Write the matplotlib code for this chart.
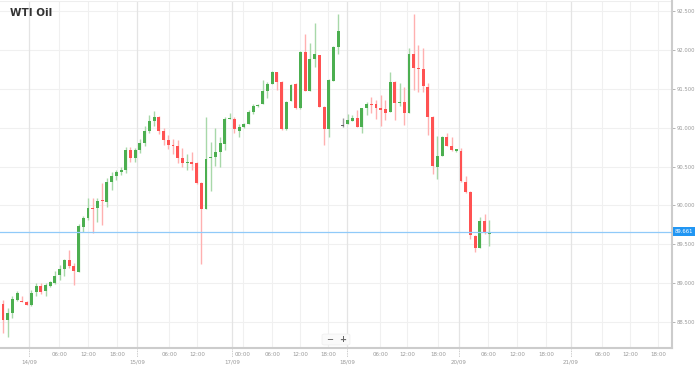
import matplotlib
matplotlib.use("Agg")
import matplotlib.pyplot as plt
from matplotlib.transforms import blended_transform_factory
from matplotlib.patches import FancyBboxPatch

title = "WTI Oil"

opens = [88.73, 88.53, 88.62, 88.79, 88.77, 88.76, 88.72, 88.89, 88.97, 88.90,
         88.97, 89.00, 89.11, 89.18, 89.30, 89.22, 89.15, 89.72, 89.84, 89.97,
         89.97, 90.07, 90.04, 90.30, 90.38, 90.43, 90.46, 90.71, 90.61, 90.71,
         90.80, 90.96, 91.08, 91.14, 90.96, 90.84, 90.78, 90.77, 90.61, 90.55,
         90.56, 90.55, 90.29, 89.96, 90.61, 90.62, 90.69, 90.79, 91.11, 91.11,
         90.96, 91.01, 91.05, 91.20, 91.28, 91.30, 91.47, 91.56, 91.72, 91.59,
         90.98, 91.34, 91.56, 91.25, 91.97, 91.47, 91.88, 91.93, 91.27, 90.98,
         91.60, 92.04, 91.02, 91.05, 91.09, 91.12, 91.01, 91.25, 91.30, 91.30,
         91.25, 91.24, 91.20, 91.59, 91.32, 91.33, 91.19, 91.95, 91.77, 91.75,
         91.52, 91.14, 90.49, 90.64, 90.88, 90.76, 90.70, 90.70, 90.30, 90.17,
         89.61, 89.45, 89.80, 89.63]
highs = [88.79, 88.68, 88.84, 88.90, 88.84, 88.77, 88.91, 89.00, 89.00, 89.00,
         89.03, 89.16, 89.24, 89.31, 89.43, 89.26, 89.76, 89.87, 90.10, 90.10,
         90.10, 90.29, 90.35, 90.43, 90.46, 90.50, 90.75, 90.75, 90.74, 90.85,
         91.02, 91.16, 91.21, 91.15, 91.00, 90.90, 90.86, 90.84, 90.74, 90.66,
         90.69, 90.56, 90.30, 91.14, 90.82, 90.99, 90.88, 91.14, 91.19, 91.14,
         91.05, 91.06, 91.23, 91.30, 91.30, 91.61, 91.59, 91.73, 91.72, 91.60,
         91.34, 91.56, 91.57, 91.98, 92.20, 92.09, 92.35, 91.94, 91.28, 91.62,
         92.05, 92.46, 91.12, 91.18, 91.16, 91.23, 91.25, 91.33, 91.39, 91.36,
         91.42, 91.36, 91.72, 91.60, 91.57, 91.52, 92.02, 92.46, 92.06, 92.02,
         91.57, 91.15, 90.89, 90.89, 90.93, 90.88, 90.73, 90.74, 90.38, 90.18,
         89.62, 89.85, 89.89, 89.81]
lows = [88.36, 88.31, 88.55, 88.77, 88.76, 88.72, 88.71, 88.84, 88.86, 88.84,
        88.95, 88.99, 89.04, 89.09, 89.20, 88.98, 89.14, 89.66, 89.81, 89.65,
        89.79, 89.75, 89.98, 90.20, 90.33, 90.39, 90.42, 90.56, 90.56, 90.67,
        90.76, 90.93, 91.02, 90.92, 90.78, 90.72, 90.66, 90.55, 90.50, 90.46,
        90.46, 90.28, 89.25, 89.95, 90.19, 90.51, 90.49, 90.71, 91.11, 90.93,
        90.88, 91.00, 91.05, 91.18, 91.27, 91.30, 91.38, 91.56, 91.48, 90.97,
        90.97, 91.34, 91.24, 91.24, 91.47, 91.47, 91.78, 91.26, 90.78, 90.88,
        91.60, 91.95, 91.01, 91.05, 91.09, 91.01, 90.93, 91.16, 91.19, 91.11,
        91.02, 91.10, 91.20, 91.10, 91.28, 91.03, 91.19, 91.48, 91.46, 91.46,
        90.91, 90.40, 90.34, 90.64, 90.76, 90.70, 90.69, 90.30, 90.16, 89.57,
        89.40, 89.45, 89.63, 89.48]
closes = [88.53, 88.62, 88.80, 88.88, 88.76, 88.72, 88.88, 88.97, 88.89, 88.98,
          89.02, 89.09, 89.18, 89.30, 89.22, 89.16, 89.74, 89.84, 89.97, 89.96,
          90.06, 90.06, 90.30, 90.38, 90.43, 90.46, 90.71, 90.61, 90.71, 90.80,
          90.96, 91.08, 91.14, 90.96, 90.84, 90.78, 90.77, 90.61, 90.55, 90.56,
          90.53, 90.29, 89.96, 90.60, 90.62, 90.69, 90.80, 91.11, 91.12, 90.98,
          91.01, 91.05, 91.20, 91.28, 91.29, 91.47, 91.56, 91.72, 91.59, 90.98,
          91.33, 91.55, 91.25, 91.97, 91.47, 91.88, 91.95, 91.27, 90.98, 91.61,
          92.04, 92.24, 91.02, 91.10, 91.12, 91.01, 91.25, 91.30, 91.29, 91.25,
          91.23, 91.19, 91.59, 91.32, 91.33, 91.19, 91.95, 91.77, 91.75, 91.54,
          91.14, 90.51, 90.64, 90.88, 90.76, 90.71, 90.72, 90.31, 90.17, 89.62,
          89.45, 89.80, 89.65, 89.661]

last_price = 89.661
price_ticks = [88.5, 89.0, 89.5, 90.0, 90.5, 91.0, 91.5, 92.0, 92.5]

time_tick_pos = [11.9, 18.0, 24.2, 35.2, 41.1, 50.8, 57.0, 62.9, 68.9, 79.9,
                 85.6, 92.2, 102.8, 108.9, 115.0, 126.9, 132.8, 138.8]
time_tick_labels = ["06:00", "12:00", "18:00", "06:00", "12:00", "00:00", "06:00",
                    "12:00", "18:00", "06:00", "12:00", "18:00", "06:00", "12:00",
                    "18:00", "06:00", "12:00", "18:00"]
date_tick_pos = [5.5, 28.4, 48.5, 72.9, 96.6, 120.3]
date_tick_labels = ["14/09", "15/09", "17/09", "18/09", "20/09", "21/09"]

GREEN = "#4caf50"
RED = "#ff5252"
GREEN_W = "#a8d8a9"
RED_W = "#ffb0b0"
GRAY = "#666666"

W, H = 699, 368
fig = plt.figure(figsize=(W / 100, H / 100), dpi=100)
ax = fig.add_axes([0, (H - 348) / H, 672 / W, (348 - 1) / H])

n = len(opens)
xs = list(range(n))
for i in xs:
    o, h, l, c = opens[i], highs[i], lows[i], closes[i]
    if c > o:
        bc, wc = GREEN, GREEN_W
    elif c < o:
        bc, wc = RED, RED_W
    else:
        bc, wc = GRAY, "#999999"
    ax.vlines(i, l, h, color=wc, linewidth=1.0, zorder=2)
    bottom = min(o, c)
    height = max(abs(c - o), 0.012)
    ax.bar(i, height, bottom=bottom, width=0.62, color=bc, linewidth=0, zorder=3)

ax.set_xlim(-0.64, 141.7)
ax.set_ylim(88.168, 92.628)

# grid
for p in price_ticks:
    ax.axhline(p, color="#f0f0f0", linewidth=0.8, zorder=0)
for x in time_tick_pos:
    ax.axvline(x, color="#f0f0f0", linewidth=0.8, zorder=0)
for x in date_tick_pos:
    ax.axvline(x, color="#e4e4e4", linewidth=0.9, zorder=0)
ax.axhline(92.628, color="#eeeeee", linewidth=0.8, zorder=0)

ax.axhline(last_price, color="#90caf9", linewidth=0.9, zorder=4)

for s in ["top", "left"]:
    ax.spines[s].set_visible(False)
ax.spines["right"].set_color("#cccccc")
ax.spines["right"].set_linewidth(1.5)
ax.spines["bottom"].set_color("#cccccc")
ax.spines["bottom"].set_linewidth(1.5)

ax.set_xticks([])
ax.yaxis.tick_right()
ax.set_yticks(price_ticks)
ax.set_yticklabels([f"{p:.3f}" for p in price_ticks])
ax.tick_params(axis="y", length=2, width=0.6, color="#aaaaaa", labelsize=3.8,
               labelcolor="#999999", pad=1.5)

tr = blended_transform_factory(ax.transData, ax.transAxes)
for x, lab in zip(time_tick_pos, time_tick_labels):
    ax.text(x, -0.02, lab, transform=tr, ha="center", va="center", fontsize=4,
            color="#999999", clip_on=False)
for x, lab in zip(date_tick_pos, date_tick_labels):
    ax.text(x, -0.041, lab, transform=tr, ha="center", va="center", fontsize=4,
            color="#999999", clip_on=False)
    ax.plot([x, x], [-0.004, -0.025], transform=tr, color="#bbbbbb",
            linewidth=0.6, linestyle=(0, (1, 1)), clip_on=False)

# current price label
trp = blended_transform_factory(ax.transAxes, ax.transData)
ax.text(1.0045, last_price, f"{last_price:.3f}", transform=trp, ha="left",
        va="center", fontsize=3.8, color="white", clip_on=False,
        bbox=dict(boxstyle="square,pad=0.35", fc="#2196f3", ec="none"))

# title
fig.text(10 / W, 1 - 13 / H, title, fontsize=7.5, fontweight="bold",
         color="#333333", ha="left", va="center")

# zoom buttons
fig.patches.append(FancyBboxPatch((322 / W, 1 - 345 / H), 28 / W, 11 / H,
                                  boxstyle="round,pad=0,rounding_size=0.004",
                                  transform=fig.transFigure, fc="#fafafa",
                                  ec="#eeeeee", lw=0.5))
fig.text(330 / W, 1 - 339.5 / H, "\u2212", fontsize=6, color="#666666",
         ha="center", va="center", fontweight="bold")
fig.text(343 / W, 1 - 339.5 / H, "+", fontsize=6, color="#666666",
         ha="center", va="center", fontweight="bold")

fig.savefig("out.png", dpi=100)
